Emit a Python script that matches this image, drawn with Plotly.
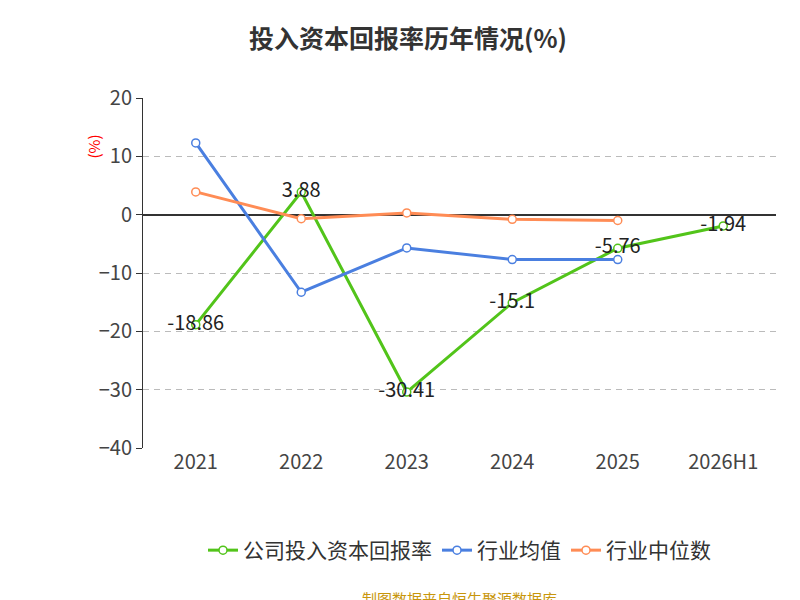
import plotly.graph_objects as go

years = ['2021', '2022', '2023', '2024', '2025', '2026H1']
company = [-18.86, 3.88, -30.41, -15.1, -5.76, -1.94]
industry_avg = [12.3, -13.3, -5.7, -7.7, -7.7]
industry_median = [3.9, -0.7, 0.3, -0.8, -1.0]
y_ticks = [20, 10, 0, -10, -20, -30, -40]

font = 'Noto Sans CJK SC'

fig = go.Figure()
fig.add_trace(go.Scatter(
    x=years, y=company, name='公司投入资本回报率',
    mode='lines+markers+text', text=[str(v) for v in company],
    textposition='middle center', textfont=dict(size=20, color='#222'),
    line=dict(color='#52c41a', width=3),
    marker=dict(size=8, color='white', line=dict(color='#52c41a', width=1.5)),
))
fig.add_trace(go.Scatter(
    x=years[:5], y=industry_avg, name='行业均值', mode='lines+markers',
    line=dict(color='#4a7fe0', width=3),
    marker=dict(size=8, color='white', line=dict(color='#4a7fe0', width=1.5)),
))
fig.add_trace(go.Scatter(
    x=years[:5], y=industry_median, name='行业中位数', mode='lines+markers',
    line=dict(color='#ff8c55', width=3),
    marker=dict(size=8, color='white', line=dict(color='#ff8c55', width=1.5)),
))

pw, ph = 800 - 135 - 32, 600 - 90 - 160
fig.update_layout(
    width=800, height=600,
    margin=dict(l=135, r=32, t=90, b=160, autoexpand=False),
    plot_bgcolor='white', paper_bgcolor='white',
    font=dict(family=font, color='#444'),
    title=dict(text='<b>投入资本回报率历年情况(%)</b>', x=0.5, y=0.962,
               xanchor='center', font=dict(size=25, color='#333')),
    xaxis=dict(type='category', range=[-0.5, 5.5], showgrid=False,
               automargin=False,
               tickfont=dict(size=20, color='#444'), ticks='', showline=False),
    yaxis=dict(range=[-40, 20], tickvals=y_ticks, showgrid=True,
               automargin=False,
               gridcolor='#bbbbbb', griddash='6px,5px', gridwidth=1.2,
               zeroline=True, zerolinecolor='#333', zerolinewidth=1.5,
               showline=True, linecolor='#333', ticks='outside', ticklen=6,
               tickcolor='#333', tickfont=dict(size=20, color='#444')),
    legend=dict(orientation='h', x=0.5, xanchor='center', y=(440 - 522) / ph,
                yanchor='top', font=dict(size=21, color='#333')),
    annotations=[
        dict(text='(%)', x=(72 - 135) / pw, y=(440 - 125) / ph, xref='paper',
             yref='paper', showarrow=False, textangle=-90,
             font=dict(size=15, color='red')),
        dict(text='制图数据来自恒生聚源数据库', x=0.5, y=(440 - 590) / ph,
             xref='paper', yref='paper', showarrow=False, yanchor='middle',
             font=dict(size=15, color='#c8960c')),
    ],
)

fig.write_html('out.html')
